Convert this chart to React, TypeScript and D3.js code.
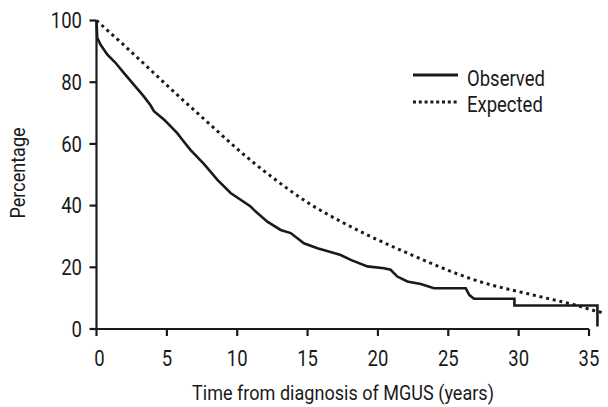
import React from "react";
import * as d3 from "d3";

const xTicks = [0, 5, 10, 15, 20, 25, 30, 35];
const yTicks = [0, 20, 40, 60, 80, 100];

const observedT = [0, 0.05, 0.28, 0.76, 1.35, 1.94, 2.65, 3.36, 3.84, 4.08, 4.79, 5.03, 5.74, 6.0, 6.69, 7.63, 8.58, 9.53, 10.24, 10.95, 11.19, 12.14, 13.09, 13.8, 14.74, 15.7, 16.88, 17.35, 18.07, 19.25, 20.43, 20.9, 21.38, 22.09, 23.04, 23.98, 26.24, 26.5, 26.83, 29.7, 29.7, 35.6, 35.6];
const observedP = [100, 94.4, 92.2, 89, 86.3, 83, 79.2, 75.4, 72.5, 70.6, 67.9, 66.8, 63.5, 61.9, 58, 53.5, 48.4, 44.1, 41.9, 39.7, 38.6, 34.8, 32.1, 31.1, 27.8, 26.2, 24.6, 24, 22.4, 20.3, 19.7, 19.2, 17, 15.4, 14.6, 13.2, 13.2, 11, 9.8, 9.8, 7.6, 7.6, 0.8];

const expectedT = [0, 2, 4, 6, 8, 10, 11.3, 12.6, 15, 17.3, 19.2, 22.1, 26.8, 31.6, 34, 35.6, 36];
const expectedP = [100, 91.8, 83.3, 74.8, 66.6, 58.4, 53.4, 48.8, 41.0, 35.0, 30.6, 24.6, 16.0, 10.4, 7.8, 5.7, 5.3];

const legendLabels = ["Observed", "Expected"];
const xTitle = "Time from diagnosis of MGUS (years)";
const yTitle = "Percentage";

const FONT = "Roboto, 'Liberation Sans', sans-serif";
const SX = 0.86;
const ink = "#1a1a1a";

function CText(props: { x: number; y: number; anchor?: string; size: number; rotate?: number; dy?: string; children: any }) {
  const { x, y, anchor = "start", size, rotate = 0, dy, children } = props;
  return (
    <text
      transform={`translate(${x},${y}) rotate(${rotate}) scale(${SX},1)`}
      textAnchor={anchor}
      fontSize={size}
      dy={dy}
      fill={ink}
      fontFamily={FONT}
    >
      {children}
    </text>
  );
}

export default function App() {
  const W = 608, H = 407;
  const x = d3.scaleLinear().domain([0, 35]).range([96.5, 589]);
  const y = d3.scaleLinear().domain([0, 100]).range([329, 20.5]);

  const obs = observedT.map((t, i) => [t, observedP[i]] as [number, number]);
  const exp = expectedT.map((t, i) => [t, expectedP[i]] as [number, number]);

  const obsLine = d3.line<[number, number]>().x(d => x(d[0])).y(d => y(d[1]))(obs) || "";
  const expLine = d3.line<[number, number]>().x(d => x(d[0])).y(d => y(d[1])).curve(d3.curveMonotoneX)(exp) || "";

  return (
    <svg width={W} height={H} style={{ position: "absolute", left: 0, top: 0, background: "#fff" }}>
      <rect x={0} y={0} width={W} height={H} fill="#fff" />
      {/* axes */}
      <line x1={x(0)} x2={x(0)} y1={y(100)} y2={y(0)} stroke={ink} strokeWidth={2.2} />
      <line x1={x(0)} x2={x(35)} y1={y(0)} y2={y(0)} stroke={ink} strokeWidth={2.2} />
      {yTicks.map(v => (
        <g key={"y" + v}>
          <line x1={x(0) - 7} x2={x(0)} y1={y(v)} y2={y(v)} stroke={ink} strokeWidth={2.2} />
          <CText x={82} y={y(v)} dy="0.36em" anchor="end" size={21.5}>{v}</CText>
        </g>
      ))}
      {xTicks.map(v => (
        <g key={"x" + v}>
          <line x1={x(v)} x2={x(v)} y1={y(0)} y2={y(0) + 7} stroke={ink} strokeWidth={2.2} />
          <CText x={x(v) + (v === 0 ? 3 : 0)} y={366} anchor="middle" size={21.5}>{v}</CText>
        </g>
      ))}
      <CText x={343} y={400} anchor="middle" size={21}>{xTitle}</CText>
      <CText x={25} y={173} rotate={-90} anchor="middle" size={21}>{yTitle}</CText>

      {/* curves */}
      <path d={expLine} fill="none" stroke={ink} strokeWidth={3} strokeDasharray="3 3.8" />
      <path d={obsLine} fill="none" stroke={ink} strokeWidth={2.6} strokeLinejoin="miter" />

      {/* legend */}
      <line x1={413} x2={458} y1={75} y2={75} stroke={ink} strokeWidth={3} />
      <CText x={467} y={86} size={21.5}>{legendLabels[0]}</CText>
      <line x1={413} x2={458} y1={102} y2={102} stroke={ink} strokeWidth={3} strokeDasharray="3 2.8" />
      <CText x={467} y={112} size={21.5}>{legendLabels[1]}</CText>
    </svg>
  );
}
